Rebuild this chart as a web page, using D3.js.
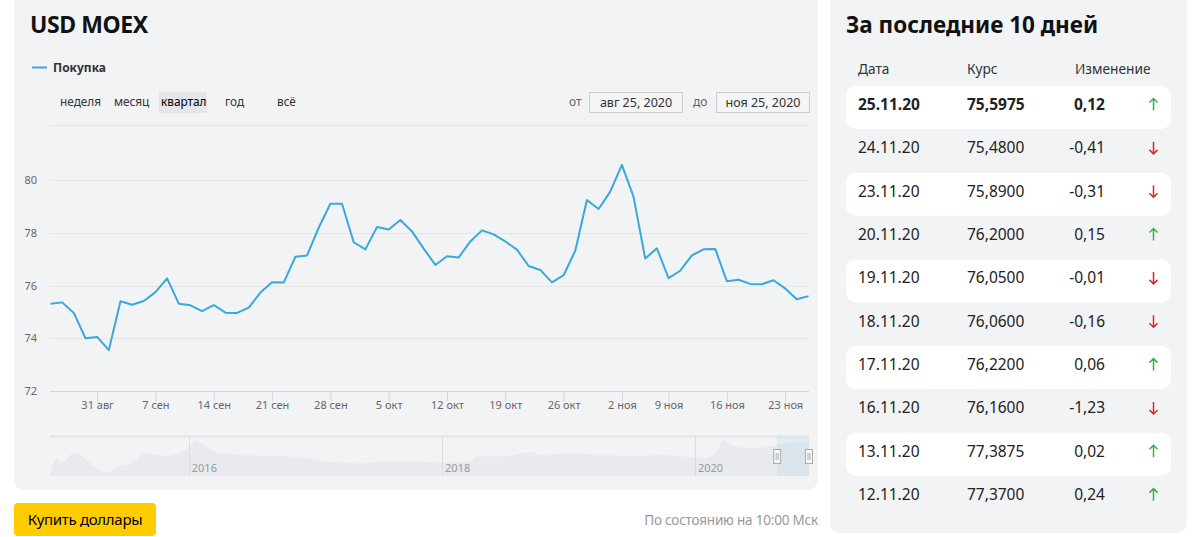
<!DOCTYPE html>
<html><head><meta charset="utf-8">
<script src="https://cdn.jsdelivr.net/npm/d3@7"></script>
<style>
html,body{margin:0;padding:0;background:#fff;}
svg{display:block;font-family:"Noto Sans",sans-serif;}
</style></head><body>
<svg id="c" width="1200" height="537"></svg>
<script>
// ---------- data ----------
const dates = [
 "2020-08-25","2020-08-26","2020-08-27","2020-08-28","2020-08-31",
 "2020-09-01","2020-09-02","2020-09-03","2020-09-04","2020-09-07","2020-09-08","2020-09-09","2020-09-10","2020-09-11",
 "2020-09-14","2020-09-15","2020-09-16","2020-09-17","2020-09-18","2020-09-21","2020-09-22","2020-09-23","2020-09-24","2020-09-25",
 "2020-09-28","2020-09-29","2020-09-30",
 "2020-10-01","2020-10-02","2020-10-05","2020-10-06","2020-10-07","2020-10-08","2020-10-09","2020-10-12","2020-10-13","2020-10-14",
 "2020-10-15","2020-10-16","2020-10-19","2020-10-20","2020-10-21","2020-10-22","2020-10-23","2020-10-26","2020-10-27","2020-10-28",
 "2020-10-29","2020-10-30",
 "2020-11-02","2020-11-03","2020-11-05","2020-11-06","2020-11-09","2020-11-10","2020-11-11","2020-11-12","2020-11-13",
 "2020-11-16","2020-11-17","2020-11-18","2020-11-19","2020-11-20","2020-11-23","2020-11-24","2020-11-25"
];
const values = [
 75.31,75.36,74.96,74.00,74.05,
 73.55,75.40,75.27,75.41,75.75,76.27,75.31,75.25,75.03,
 75.26,74.97,74.96,75.16,75.73,76.12,76.11,77.09,77.14,78.19,
 79.10,79.10,77.64,
 77.37,78.22,78.12,78.48,78.05,77.40,76.78,77.11,77.06,77.67,
 78.09,77.94,77.67,77.36,76.74,76.59,76.12,76.39,77.32,79.24,
 78.90,79.56,
 80.57,79.36,77.02,77.41,76.28,76.56,77.14,77.37,77.3875,
 76.16,76.22,76.06,76.05,76.20,75.89,75.48,75.5975
];
const xTickDates = ["2020-08-31","2020-09-07","2020-09-14","2020-09-21","2020-09-28","2020-10-05","2020-10-12","2020-10-19","2020-10-26","2020-11-02","2020-11-09","2020-11-16","2020-11-23"];
const xTickLabels = ["31 авг","7 сен","14 сен","21 сен","28 сен","5 окт","12 окт","19 окт","26 окт","2 ноя","9 ноя","16 ноя","23 ноя"];
const yTicks = [72,74,76,78,80];
const rangeButtons = ["неделя","месяц","квартал","год","всё"];
const fromLabel = "авг 25, 2020", toLabel = "ноя 25, 2020";

const tableDates = ["25.11.20","24.11.20","23.11.20","20.11.20","19.11.20","18.11.20","17.11.20","16.11.20","13.11.20","12.11.20"];
const tableRates = ["75,5975","75,4800","75,8900","76,2000","76,0500","76,0600","76,2200","76,1600","77,3875","77,3700"];
const tableChanges = ["0,12","-0,41","-0,31","0,15","-0,01","-0,16","0,06","-1,23","0,02","0,24"];

const navDates = ["2014-11-28","2014-12-16","2014-12-30","2015-02-05","2015-03-10","2015-04-20","2015-05-15","2015-06-10","2015-07-20",
 "2015-08-25","2015-09-25","2015-10-22","2015-11-20","2015-12-30","2016-01-20","2016-02-15","2016-03-15","2016-05-05","2016-08-05",
 "2016-11-15","2017-01-01","2017-02-20","2017-05-20","2017-07-10","2017-08-30","2017-12-01","2018-01-01","2018-03-28","2018-04-10",
 "2018-07-01","2018-08-20","2018-09-15","2018-10-10","2019-01-10","2019-04-15","2019-07-20","2019-09-10","2019-12-15","2020-01-30",
 "2020-02-28","2020-03-25","2020-04-15","2020-05-15","2020-06-20","2020-08-05","2020-09-05","2020-10-05","2020-11-01","2020-11-25"];
const navValues = [48,63,58,68.3,61,51,48.3,55,58,
 68.3,66,64.5,66,73,80.3,76,69.3,67,65,
 64.3,61,59,57.7,59.5,59.5,59,58.3,60.3,64.3,
 64.3,68.3,69,66,67.7,65.7,65,66.3,64,63,
 67.7,80.3,76,74,73,74.5,77,78.5,79,77];
const navYears = ["2016","2018","2020"];

// ---------- drawing ----------
const svg = d3.select("#c");
const parse = d3.timeParse("%Y-%m-%d");

// cards
svg.append("rect").attr("x",14).attr("y",-10).attr("width",804).attr("height",500).attr("rx",10).attr("fill","#f2f3f5");
svg.append("rect").attr("x",830).attr("y",-10).attr("width",357).attr("height",543).attr("rx",10).attr("fill","#f2f3f5");

// title
svg.append("text").attr("x",30).attr("y",33).attr("font-size",23).attr("letter-spacing",-0.4).attr("font-weight",700).attr("fill","#111").text("USD MOEX");

// legend
svg.append("line").attr("x1",32).attr("x2",47).attr("y1",67.5).attr("y2",67.5).attr("stroke","#3aa8db").attr("stroke-width",2);
svg.append("text").attr("x",53).attr("y",71.5).attr("font-size",12).attr("font-weight",700).attr("fill","#333").text("Покупка");

// range buttons
const btnX = [60,114,161,225,277];
svg.append("rect").attr("x",159).attr("y",92).attr("width",48).attr("height",21).attr("fill","#e5e6e9");
svg.selectAll("text.btn").data(rangeButtons).join("text").attr("class","btn")
  .attr("x",(d,i)=>btnX[i]).attr("y",106).attr("font-size",11.8)
  .attr("fill",(d,i)=>i===2?"#000":"#333").text(d=>d);

// date inputs
svg.append("text").attr("x",569).attr("y",106).attr("font-size",12).attr("fill","#666").text("от");
svg.append("text").attr("x",693).attr("y",106).attr("font-size",12).attr("fill","#666").text("до");
[[589,fromLabel],[716,toLabel]].forEach(([bx,t])=>{
  svg.append("rect").attr("x",bx+0.5).attr("y",92.5).attr("width",93).attr("height",20).attr("fill","#f4f5f7").attr("stroke","#cccccc");
  svg.append("text").attr("x",bx+47).attr("y",106.5).attr("text-anchor","middle").attr("font-size",12.5).attr("fill","#333").text(t);
});
svg.append("line").attr("x1",50).attr("x2",809).attr("y1",125.5).attr("y2",125.5).attr("stroke","#e6e6e6");

// main chart
const x = d3.scalePoint().domain(dates).range([50.5, 808.5]);
const y = d3.scaleLinear().domain([72,80]).range([391,180]);

const grid = svg.append("g");
grid.selectAll("line").data(yTicks.filter(v=>v!==72)).join("line")
  .attr("x1",50).attr("x2",809).attr("y1",d=>Math.round(y(d))+0.5).attr("y2",d=>Math.round(y(d))+0.5)
  .attr("stroke","#e6e6e6");
svg.append("g").selectAll("text").data(yTicks).join("text")
  .attr("x",37).attr("y",d=>y(d)+4).attr("text-anchor","end").attr("font-size",11).attr("fill","#666").text(d=>d);

const xAxis = svg.append("g").attr("transform","translate(0,391.5)")
  .call(d3.axisBottom(x).tickValues(xTickDates).tickFormat((d,i)=>xTickLabels[i]).tickSize(10).tickSizeOuter(0));
xAxis.select(".domain").attr("stroke","#ccd6eb").attr("d","M50,0H809");
xAxis.selectAll(".tick line").attr("stroke","#ccd6eb");
xAxis.selectAll(".tick text").attr("font-size",11).attr("fill","#666").attr("font-family","Noto Sans").attr("dy","0.6em").attr("y",11);

svg.append("path").datum(values)
  .attr("d", d3.line().x((d,i)=>x(dates[i])).y(d=>y(d)))
  .attr("fill","none").attr("stroke","#3aa8db").attr("stroke-width",2).attr("stroke-linejoin","round");

// navigator
const nx = d3.scaleTime().domain([parse("2014-11-28"), parse("2020-11-25")]).range([50.5, 809]);
const ny = d3.scaleLinear().domain([45,84]).range([476,437]);
svg.append("line").attr("x1",50).attr("x2",809).attr("y1",436.5).attr("y2",436.5).attr("stroke","#e3e4e7").attr("stroke-width",2);
svg.append("path").datum(navValues)
  .attr("d", d3.area().x((d,i)=>nx(parse(navDates[i]))).y0(476).y1(d=>ny(d)).curve(d3.curveMonotoneX))
  .attr("fill","#e8eaef");
svg.selectAll("line.yr").data(navYears).join("line").attr("class","yr")
  .attr("x1",d=>Math.round(nx(parse(d+"-01-01")))+0.5).attr("x2",d=>Math.round(nx(parse(d+"-01-01")))+0.5)
  .attr("y1",437).attr("y2",476).attr("stroke","#dcdde0");
svg.selectAll("text.yr").data(navYears).join("text").attr("class","yr")
  .attr("x",d=>nx(parse(d+"-01-01"))+3).attr("y",472).attr("font-size",11).attr("fill","#999").text(d=>d);
const selX0 = nx(parse(dates[0])), selX1 = nx(parse(dates[dates.length-1]));
svg.append("rect").attr("x",selX0).attr("y",437).attr("width",selX1-selX0).attr("height",39).attr("fill","rgba(160,205,230,0.2)");
[selX0, selX1].forEach(hx=>{
  svg.append("rect").attr("x",hx-3.5).attr("y",449.5).attr("width",7).attr("height",14).attr("fill","#f7f7f7").attr("stroke","#aaa");
  svg.append("line").attr("x1",hx-1).attr("x2",hx-1).attr("y1",453).attr("y2",460).attr("stroke","#aaa");
  svg.append("line").attr("x1",hx+1).attr("x2",hx+1).attr("y1",453).attr("y2",460).attr("stroke","#aaa");
});

// bottom
svg.append("rect").attr("x",14).attr("y",503).attr("width",142).attr("height",33).attr("rx",4).attr("fill","#ffcc00");
svg.append("text").attr("x",85).attr("y",525).attr("text-anchor","middle").attr("font-size",15).attr("letter-spacing",-0.3).attr("fill","#000").text("Купить доллары");
svg.append("text").attr("x",818).attr("y",525).attr("text-anchor","end").attr("font-size",13.5).attr("letter-spacing",-0.2).attr("fill","#999").text("По состоянию на 10:00 Мск");

// right panel
svg.append("text").attr("x",846).attr("y",33).attr("font-size",22.5).attr("font-weight",700).attr("fill","#111").text("За последние 10 дней");
[["Дата",858],["Курс",967],["Изменение",1075]].forEach(([t,hx])=>{
  svg.append("text").attr("x",hx).attr("y",74).attr("font-size",13.7).attr("fill","#333").text(t);
});
const rowY = i => 110 + i*43.35;
const rows = svg.append("g");
tableDates.forEach((d,i)=>{
  const by = rowY(i);
  if(i%2===0) rows.append("rect").attr("x",846).attr("y",by-24).attr("width",325).attr("height",43).attr("rx",10).attr("fill","#fff");
  const fw = i===0?700:400;
  rows.append("text").attr("x",858).attr("y",by).attr("font-size",15.5).attr("font-weight",fw).attr("fill","#222").text(d);
  rows.append("text").attr("x",967).attr("y",by).attr("font-size",15.5).attr("font-weight",fw).attr("fill","#222").text(tableRates[i]);
  rows.append("text").attr("x",1105).attr("y",by).attr("text-anchor","end").attr("font-size",15.5).attr("font-weight",fw).attr("fill","#222").text(tableChanges[i]);
  const up = !tableChanges[i].startsWith("-");
  const cx = 1153.5, cy = by-5.5;
  const col = up?"#3cb043":"#e02424";
  const tip = up?cy-6:cy+6, tail = up?cy+6:cy-6, hy = up?cy-2:cy+2;
  rows.append("path").attr("d",`M${cx},${tail}V${tip}M${cx-4},${hy}L${cx},${tip}L${cx+4},${hy}`)
    .attr("fill","none").attr("stroke",col).attr("stroke-width",1.5);
});
</script>
</body></html>
